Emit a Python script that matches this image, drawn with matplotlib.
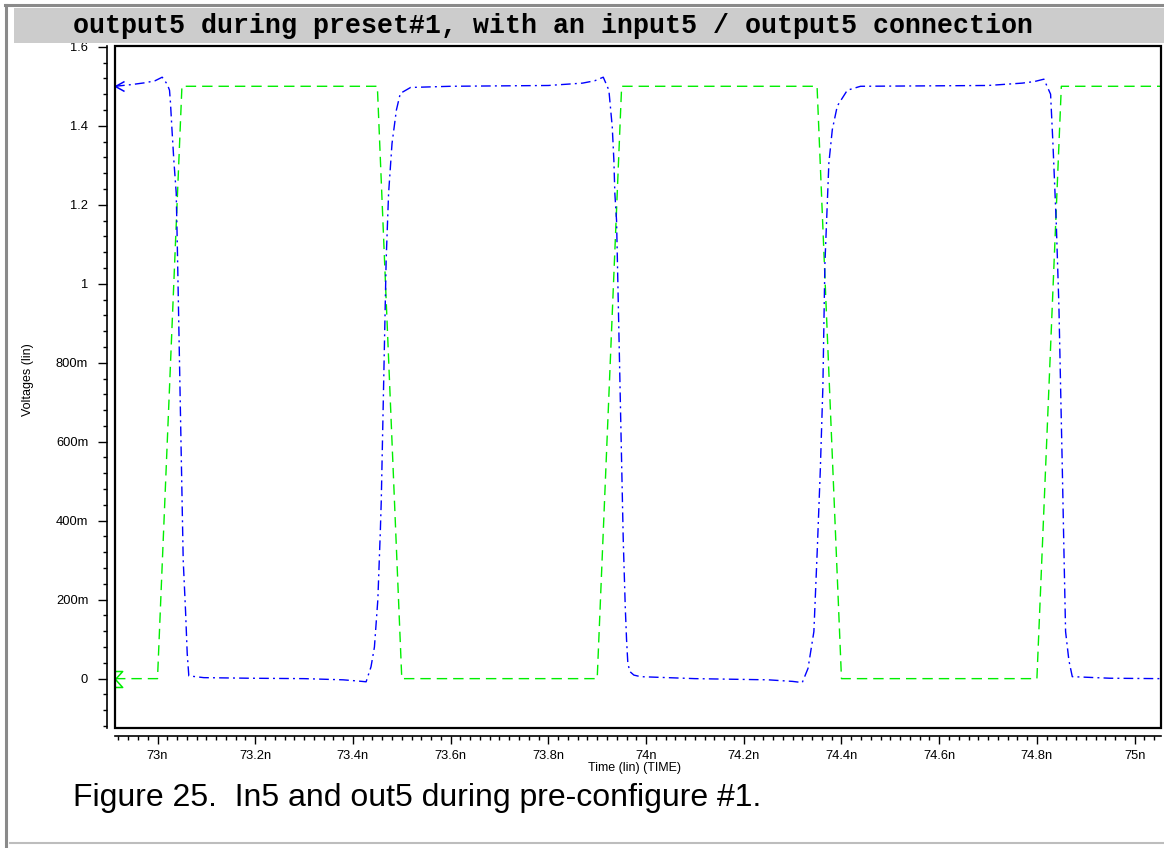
#!/usr/bin/env python
'''
Transient plot of input5 / output5 during preset#1 (waveform viewer style).
'''

import matplotlib
matplotlib.use('Agg')
import matplotlib.pyplot as plt
from matplotlib.patches import Rectangle
from matplotlib.lines import Line2D
from matplotlib.path import Path
from matplotlib.ticker import MultipleLocator

plt.rcParams['font.family'] = ['Liberation Sans', 'DejaVu Sans']

# ---- data (time in ns, voltage in V) ----
in5_t = [72.913, 73.0, 73.05, 73.45, 73.5, 73.9, 73.95, 74.35, 74.4, 74.8, 74.85, 75.054]
in5_v = [0.0, 0.0, 1.5, 1.5, 0.0, 0.0, 1.5, 1.5, 0.0, 0.0, 1.5, 1.5]

out5_t = [72.913, 72.945, 72.975, 72.995, 73.0096, 73.020, 73.0246, 73.0266, 73.0293,
          73.0334, 73.0383, 73.0405, 73.0526, 73.0573, 73.0608, 73.0641, 73.0948, 73.19,
          73.30, 73.38, 73.41, 73.427, 73.437, 73.444, 73.451, 73.456, 73.458, 73.468,
          73.473, 73.480, 73.489, 73.497, 73.518, 73.60, 73.80, 73.87, 73.895, 73.9124,
          73.9239, 73.9308, 73.9341, 73.9361, 73.9396, 73.9533, 73.9574, 73.9601, 73.9627,
          73.9668, 73.9750, 73.9887, 74.10, 74.25, 74.30, 74.3197, 74.3315, 74.3435,
          74.3504, 74.3567, 74.3619, 74.3660, 74.3742, 74.3812, 74.3914, 74.4119, 74.439,
          74.70, 74.77, 74.795, 74.8143, 74.8280, 74.8327, 74.8397, 74.8450, 74.8485,
          74.8520, 74.8553, 74.8587, 74.8655, 74.8724, 74.95, 75.054]
out5_v = [1.500, 1.504, 1.509, 1.514, 1.523, 1.505, 1.490, 1.457, 1.397,
          1.313, 1.230, 1.100, 0.300, 0.174, 0.064, 0.007, 0.0025, 0.001,
          0.000, -0.003, -0.006, -0.008, 0.030, 0.080, 0.200, 0.370, 0.450, 1.060,
          1.229, 1.355, 1.440, 1.482, 1.497, 1.500, 1.502, 1.508, 1.514, 1.523,
          1.490, 1.397, 1.313, 1.229, 1.160, 0.351, 0.182, 0.098, 0.039,
          0.018, 0.009, 0.005, 0.000, -0.003, -0.007, -0.010, 0.026, 0.119,
          0.325, 0.530, 0.738, 1.048, 1.306, 1.390, 1.450, 1.490, 1.500,
          1.502, 1.508, 1.512, 1.518, 1.480, 1.358, 1.151, 0.945, 0.738,
          0.532, 0.325, 0.119, 0.046, 0.005, 0.001, 0.000]

ytick_vals = [0.0, 0.2, 0.4, 0.6, 0.8, 1.0, 1.2, 1.4, 1.6]
ytick_labels = ['0', '200m', '400m', '600m', '800m', '1', '1.2', '1.4', '1.6']
xtick_vals = [73.0, 73.2, 73.4, 73.6, 73.8, 74.0, 74.2, 74.4, 74.6, 74.8, 75.0]
xtick_labels = ['73n', '73.2n', '73.4n', '73.6n', '73.8n', '74n', '74.2n', '74.4n',
                '74.6n', '74.8n', '75n']

title_str = 'output5 during preset#1, with an input5 / output5 connection'
caption_str = 'Figure 25.  In5 and out5 during pre-configure #1.'

W, H = 1164, 848
fig = plt.figure(figsize=(W / 100.0, H / 100.0), dpi=100)
fig.patch.set_facecolor('white')


def fx(px):
    return px / float(W)


def fy(py):
    return 1.0 - py / float(H)


# outer page border + grey title band
fig.add_artist(Line2D([fx(6), fx(6)], [fy(5), fy(848)], color='#8a8a8a', lw=2.2))
fig.add_artist(Line2D([fx(5), fx(1164)], [fy(5), fy(5)], color='#8a8a8a', lw=2.2))
fig.add_artist(Line2D([fx(10), fx(1164)], [fy(843), fy(843)], color='#bdbdbd', lw=1.5))
fig.add_artist(Rectangle((fx(14), fy(43)), fx(1164) - fx(14), fy(8) - fy(43),
                         transform=fig.transFigure, facecolor='#cccccc', edgecolor='none'))
fig.text(fx(553), fy(26), title_str, ha='center', va='center', fontsize=19.2,
         family='Liberation Mono', weight='bold', color='black')

ax = fig.add_axes([fx(115), fy(728), fx(1161) - fx(115), fy(46) - fy(728)])

# signals
ax.plot(in5_t, in5_v, color='#00ee00', lw=1.0, dashes=(7.5, 4.3))
ax.plot(out5_t, out5_v, color='#0000ff', lw=1.0, dashes=(7.0, 3.0, 1.4, 3.0))

# start-of-trace markers on the left edge
arrow_mk = Path([(1.0, 0.55), (0.0, 0.0), (1.0, -0.55)],
                [Path.MOVETO, Path.LINETO, Path.LINETO])
sigma_mk = Path([(0.0, 1.0), (0.9, 1.0), (0.0, 0.0), (0.9, -1.0), (0.0, -1.0)],
                [Path.MOVETO, Path.LINETO, Path.LINETO, Path.LINETO, Path.LINETO])
ax.plot([out5_t[0]], [out5_v[0]], marker=arrow_mk, ms=13, mfc='none', mec='#0000ff',
        mew=1.1, ls='none', clip_on=False, zorder=6)
ax.plot([in5_t[0]], [in5_v[0]], marker=sigma_mk, ms=11.5, mfc='none', mec='#00ee00',
        mew=1.1, ls='none', clip_on=False, zorder=6)

ax.set_xlim(72.913, 75.054)
ax.set_ylim(-0.125, 1.602)

# black plot frame, axes drawn detached outside it
ax.add_patch(Rectangle((0, 0), 1, 1, transform=ax.transAxes, fill=False,
                       edgecolor='black', lw=1.6, clip_on=False, zorder=7))
ax.spines['top'].set_visible(False)
ax.spines['right'].set_visible(False)
ax.spines['left'].set_position(('outward', 5.8))
ax.spines['bottom'].set_position(('outward', 5.6))
ax.spines['left'].set_linewidth(1.2)
ax.spines['bottom'].set_linewidth(1.2)

ax.set_yticks(ytick_vals, ytick_labels)
ax.set_xticks(xtick_vals, xtick_labels)
ax.yaxis.set_minor_locator(MultipleLocator(0.04))
ax.xaxis.set_minor_locator(MultipleLocator(0.02))
ax.tick_params(axis='y', which='major', length=6.5, width=1, pad=7, labelsize=9.3)
ax.tick_params(axis='y', which='minor', length=3, width=1)
ax.tick_params(axis='x', which='major', length=5.5, width=1, pad=5, labelsize=9.3)
ax.tick_params(axis='x', which='minor', length=3, width=1)

fig.text(fx(28), fy(380), 'Voltages (lin)', rotation=90, ha='center', va='center',
         fontsize=9)
fig.text(fx(635), fy(768), 'Time (lin) (TIME)', ha='center', va='center', fontsize=9)
fig.text(fx(73), fy(806), caption_str, ha='left', va='baseline', fontsize=23)

fig.savefig('out.png', dpi=100)
